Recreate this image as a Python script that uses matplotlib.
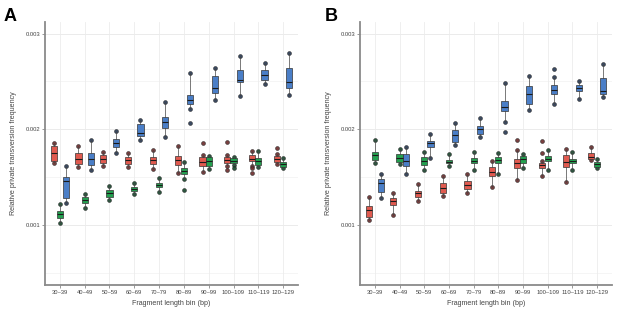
import matplotlib
matplotlib.use("Agg")
import matplotlib.pyplot as plt
from matplotlib.patches import Patch

plt.rcParams['font.family'] = ['Liberation Sans', 'DejaVu Sans']

bins = ["30\u201339", "40\u201349", "50\u201359", "60\u201369", "70\u201379",
        "80\u201389", "90\u201399", "100\u2013109", "110\u2013119", "120\u2013129"]

# Panel A summary values (x1e-3): q1, median, q3, whisker low, whisker high
A_red_q1 = [1.669, 1.634, 1.651, 1.634, 1.634, 1.627, 1.616, 1.651, 1.669, 1.661]
A_red_med = [1.755, 1.687, 1.693, 1.680, 1.680, 1.680, 1.661, 1.680, 1.693, 1.693]
A_red_q3 = [1.826, 1.749, 1.731, 1.714, 1.714, 1.721, 1.707, 1.714, 1.731, 1.721]
A_red_lo = [1.648, 1.603, 1.617, 1.603, 1.582, 1.547, 1.550, 1.620, 1.620, 1.640]
A_red_hi = [1.857, 1.825, 1.766, 1.755, 1.783, 1.826, 1.730, 1.730, 1.777, 1.740]
A_red_out = [[], [], [], [], [], [], [1.854], [1.864, 1.575], [1.592, 1.547], [1.800]]

A_grn_q1 = [1.070, 1.233, 1.296, 1.355, 1.394, 1.530, 1.616, 1.651, 1.627, 1.609]
A_grn_med = [1.110, 1.264, 1.331, 1.376, 1.418, 1.564, 1.672, 1.672, 1.669, 1.634]
A_grn_q3 = [1.146, 1.296, 1.366, 1.400, 1.442, 1.599, 1.707, 1.696, 1.703, 1.655]
A_grn_lo = [1.024, 1.174, 1.261, 1.324, 1.348, 1.478, 1.582, 1.630, 1.603, 1.599]
A_grn_hi = [1.220, 1.324, 1.407, 1.436, 1.488, 1.661, 1.720, 1.710, 1.777, 1.697]
A_grn_out = [[], [], [], [], [], [1.366], [], [1.592], [], []]

A_blu_q1 = [1.282, 1.627, 1.818, 1.930, 2.010, 2.261, 2.382, 2.491, 2.515, 2.435]
A_blu_med = [1.460, 1.687, 1.860, 1.964, 2.080, 2.306, 2.428, 2.515, 2.567, 2.491]
A_blu_q3 = [1.505, 1.755, 1.896, 2.055, 2.125, 2.358, 2.560, 2.620, 2.620, 2.644]
A_blu_lo = [1.233, 1.575, 1.749, 1.888, 1.923, 2.209, 2.306, 2.351, 2.470, 2.358]
A_blu_hi = [1.617, 1.888, 1.985, 2.097, 2.288, 2.585, 2.644, 2.766, 2.697, 2.800]
A_blu_out = [[], [], [], [], [], [2.069], [], [], [], []]

# Panel B
B_red_q1 = [1.080, 1.209, 1.296, 1.331, 1.373, 1.512, 1.592, 1.599, 1.609, 1.687]
B_red_med = [1.157, 1.251, 1.331, 1.387, 1.418, 1.557, 1.645, 1.627, 1.661, 1.711]
B_red_q3 = [1.199, 1.279, 1.355, 1.436, 1.463, 1.609, 1.687, 1.645, 1.731, 1.749]
B_red_lo = [1.052, 1.104, 1.254, 1.303, 1.331, 1.394, 1.470, 1.512, 1.446, 1.680]
B_red_hi = [1.296, 1.331, 1.428, 1.512, 1.530, 1.672, 1.783, 1.672, 1.794, 1.818]
B_red_out = [[], [], [], [], [], [], [1.888], [1.878, 1.749], [], []]

B_grn_q1 = [1.680, 1.661, 1.627, 1.645, 1.645, 1.651, 1.645, 1.672, 1.645, 1.609]
B_grn_med = [1.731, 1.700, 1.669, 1.661, 1.669, 1.680, 1.690, 1.693, 1.669, 1.638]
B_grn_q3 = [1.766, 1.742, 1.707, 1.680, 1.696, 1.707, 1.721, 1.721, 1.687, 1.661]
B_grn_lo = [1.645, 1.637, 1.575, 1.616, 1.575, 1.530, 1.599, 1.575, 1.575, 1.592]
B_grn_hi = [1.888, 1.791, 1.766, 1.742, 1.766, 1.749, 1.742, 1.783, 1.766, 1.687]
B_grn_out = [[], [], [], [], [], [], [], [], [], []]

B_blu_q1 = [1.348, 1.616, 1.818, 1.870, 1.951, 2.194, 2.261, 2.369, 2.403, 2.369]
B_blu_med = [1.436, 1.669, 1.853, 1.940, 2.000, 2.230, 2.369, 2.411, 2.431, 2.403]
B_blu_q3 = [1.478, 1.742, 1.881, 1.993, 2.034, 2.296, 2.452, 2.463, 2.463, 2.533]
B_blu_lo = [1.279, 1.533, 1.697, 1.836, 1.916, 2.080, 2.202, 2.264, 2.317, 2.334]
B_blu_hi = [1.533, 1.818, 1.951, 2.063, 2.121, 2.480, 2.557, 2.550, 2.505, 2.680]
B_blu_out = [[], [], [], [], [], [1.969], [], [2.630], [], []]

yticks = [0.001, 0.002, 0.003]
ytick_labels = ["0.001", "0.002", "0.003"]

RED, GRN, BLU = "#E05A4F", "#23A04F", "#4A7EC7"
RED_D, GRN_D, BLU_D = "#6b2a2a", "#15452a", "#243652"

panels = {
    "A": [(A_red_q1, A_red_med, A_red_q3, A_red_lo, A_red_hi, A_red_out, RED, RED_D),
          (A_grn_q1, A_grn_med, A_grn_q3, A_grn_lo, A_grn_hi, A_grn_out, GRN, GRN_D),
          (A_blu_q1, A_blu_med, A_blu_q3, A_blu_lo, A_blu_hi, A_blu_out, BLU, BLU_D)],
    "B": [(B_red_q1, B_red_med, B_red_q3, B_red_lo, B_red_hi, B_red_out, RED, RED_D),
          (B_grn_q1, B_grn_med, B_grn_q3, B_grn_lo, B_grn_hi, B_grn_out, GRN, GRN_D),
          (B_blu_q1, B_blu_med, B_blu_q3, B_blu_lo, B_blu_hi, B_blu_out, BLU, BLU_D)],
}

fig = plt.figure(figsize=(6.17, 3.13), dpi=100)
axes_pos = {"A": [45/617, 28/313, 253/617, 263/313],
            "B": [360/617, 28/313, 252/617, 263/313]}

offsets = [-0.25, 0.0, 0.25]
width = 0.25
xs = list(range(1, len(bins) + 1))

for name, series in panels.items():
    ax = fig.add_axes(axes_pos[name])
    ax.set_xlim(0.4, len(bins) + 0.6)
    ax.set_ylim(0.000373, 0.003121)
    # grid
    for y in [0.0005, 0.0015, 0.0025]:
        ax.axhline(y, color="#f2f2f2", lw=0.5, zorder=0)
    for y in yticks:
        ax.axhline(y, color="#e8e8e8", lw=0.6, zorder=0)
    for x in xs:
        ax.axvline(x, color="#ececec", lw=0.6, zorder=0)
    for k, (q1, med, q3, lo, hi, out, col, dcol) in enumerate(series):
        stats = []
        for i in range(len(bins)):
            stats.append(dict(q1=q1[i]*1e-3, med=med[i]*1e-3, q3=q3[i]*1e-3,
                              whislo=lo[i]*1e-3, whishi=hi[i]*1e-3,
                              fliers=[v*1e-3 for v in out[i]]))
        pos = [x + offsets[k] for x in xs]
        # dots at whisker ends and outliers
        for i, p in enumerate(pos):
            pts = [lo[i], hi[i]] + list(out[i])
            ax.plot([p]*len(pts), [v*1e-3 for v in pts], 'o', ms=2.8,
                    mfc=dcol, mec="#222222", mew=0.4, zorder=2, alpha=0.9)
        ax.bxp(stats, positions=pos, widths=width, patch_artist=True,
               showfliers=False, showcaps=False,
               boxprops=dict(facecolor=col, edgecolor="#333333", lw=0.5),
               whiskerprops=dict(color="#444444", lw=0.5),
               medianprops=dict(color="#1a1a1a", lw=0.8),
               manage_ticks=False, zorder=3)
    ax.set_xticks(xs)
    ax.set_xticklabels(bins)
    ax.set_yticks(yticks)
    ax.set_yticklabels(ytick_labels)
    ax.tick_params(axis="both", labelsize=4.2, colors="#888888", length=2,
                   width=0.6, labelcolor="#444444", pad=1.5)
    for s in ["top", "right"]:
        ax.spines[s].set_visible(False)
    for s in ["left", "bottom"]:
        ax.spines[s].set_color("#8a8a8a")
        ax.spines[s].set_linewidth(1.3)
    ax.set_xlabel("Fragment length bin (bp)", fontsize=5.1, color="#444444", labelpad=4)
    ax.set_ylabel("Relative private transversion frequency", fontsize=5.1,
                  color="#444444", labelpad=6)
    ax.set_facecolor("white")

fig.text(4/617, 1 - 8/313, "A", fontsize=13, fontweight="bold", va="top", ha="left")
fig.text(325/617, 1 - 8/313, "B", fontsize=13, fontweight="bold", va="top", ha="left")

fig.savefig("out.png", dpi=100)
